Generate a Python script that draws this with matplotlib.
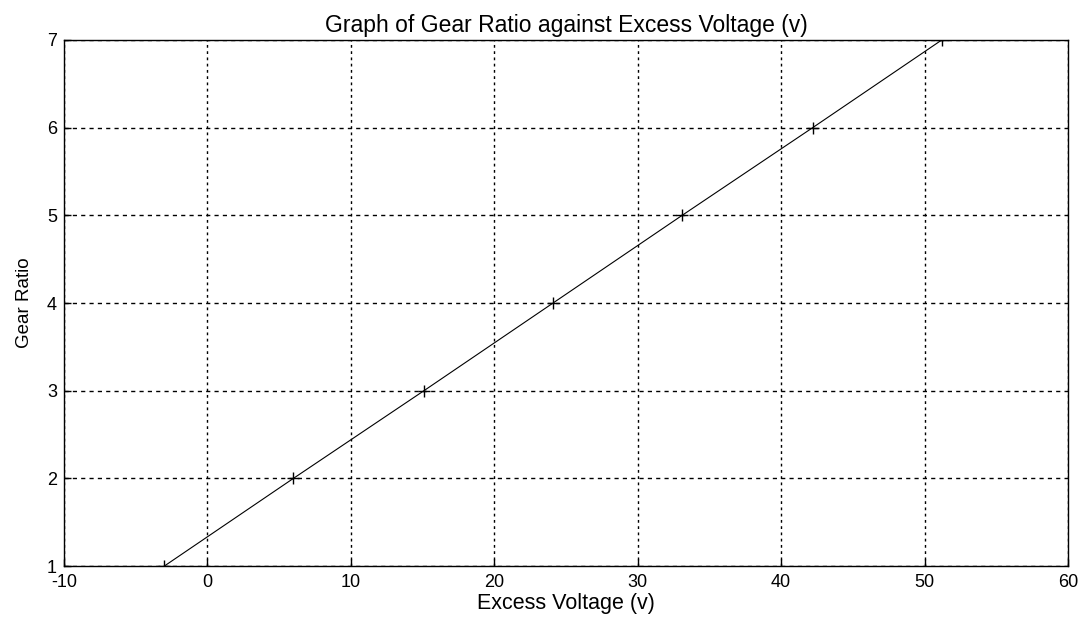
import matplotlib

matplotlib.use("Agg")
import matplotlib.pyplot as plt

# values
excess_voltage = [-3.0, 6.0, 15.1, 24.1, 33.1, 42.2, 51.2]
gear_ratio = [1, 2, 3, 4, 5, 6, 7]
x_ticks = [-10, 0, 10, 20, 30, 40, 50, 60]
y_ticks = [1, 2, 3, 4, 5, 6, 7]

plt.rcParams["font.family"] = ["Liberation Sans", "DejaVu Sans"]
plt.rcParams["axes.unicode_minus"] = False

fig = plt.figure(figsize=(10.88, 6.18), dpi=100)
ax = fig.add_axes([0.0588, 0.0841, 0.9228, 0.8512])

ax.plot(excess_voltage, gear_ratio, "-", color="black", lw=0.8,
        marker="+", ms=9, mew=1.0)

ax.set_xlim(-10, 60)
ax.set_ylim(1, 7)
ax.set_xticks(x_ticks)
ax.set_yticks(y_ticks)
ax.tick_params(direction="in", length=5, width=1.0, labelsize=13)
ax.tick_params(axis="x", pad=6)
ax.tick_params(axis="y", pad=5)

# vertical grid: short dots, horizontal grid: dashes (MATLAB look)
ax.xaxis.grid(True, color="black", lw=1.0, ls=(0, (2, 2.5)))
ax.yaxis.grid(True, color="black", lw=1.0, ls=(0, (3, 3)))

for side in ax.spines.values():
    side.set_linewidth(1.0)

ax.set_title("Graph of Gear Ratio against Excess Voltage (v)", fontsize=16.5, pad=6)
ax.set_xlabel("Excess Voltage (v)", fontsize=15.5, labelpad=1)
ax.set_ylabel("Gear Ratio", fontsize=13.5, labelpad=10)

fig.savefig("out.png", dpi=100)
